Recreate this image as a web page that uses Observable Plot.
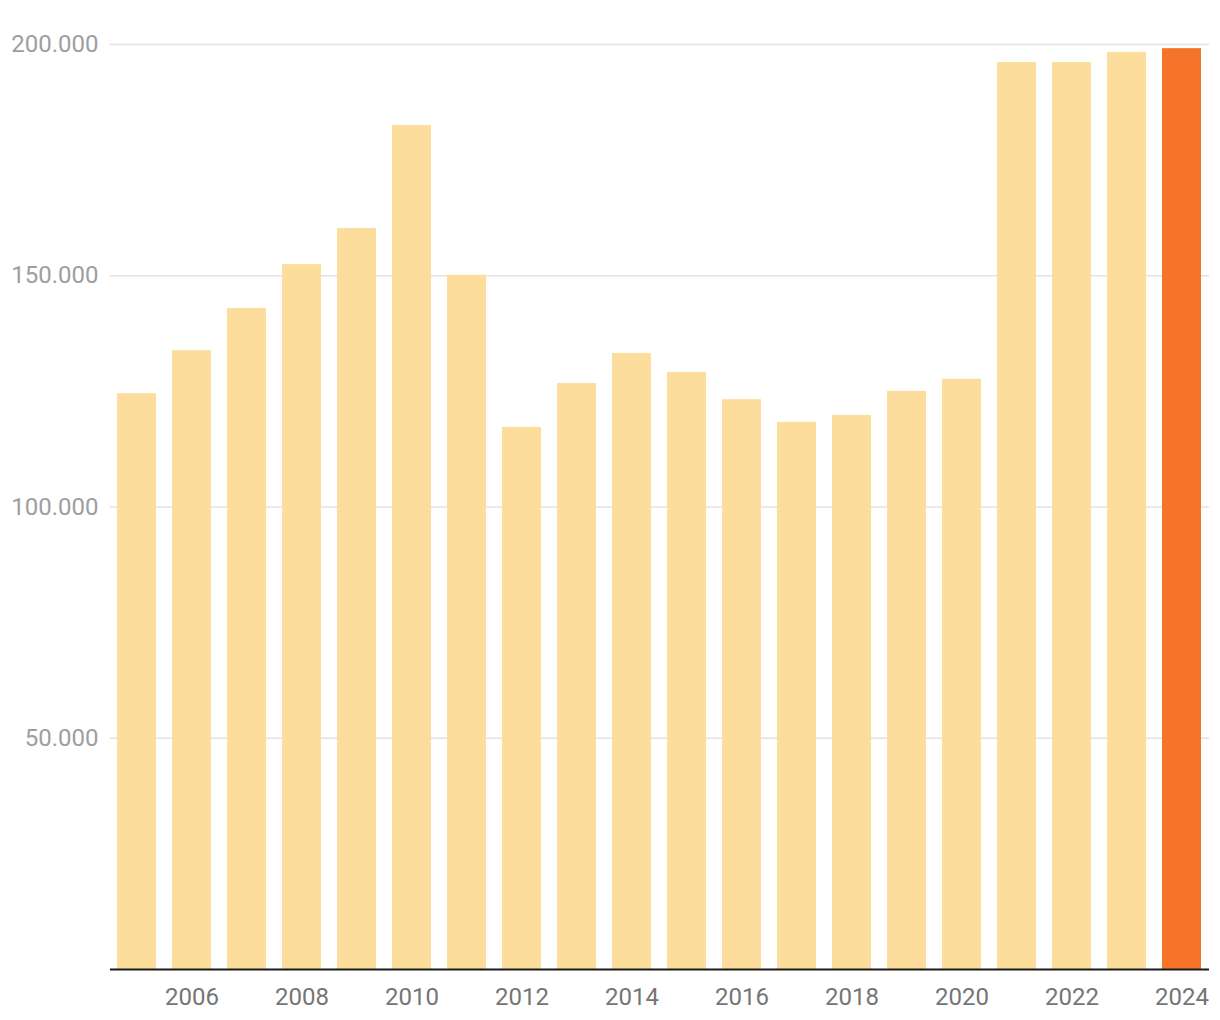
<!DOCTYPE html>
<html>
<head>
<meta charset="utf-8">
<script src="https://cdn.jsdelivr.net/npm/d3@7"></script>
<script src="https://cdn.jsdelivr.net/npm/@observablehq/plot@0.6"></script>
<style>
  html, body { margin: 0; padding: 0; background: #fff; }
  #chart svg { display: block; }
</style>
</head>
<body>
<div id="chart"></div>
<script>
const years = [2005, 2006, 2007, 2008, 2009, 2010, 2011, 2012, 2013, 2014, 2015, 2016, 2017, 2018, 2019, 2020, 2021, 2022, 2023, 2024];
const values = [124500, 133800, 142900, 152400, 160200, 182500, 150100, 117200, 126700, 133200, 129100, 123200, 118300, 119800, 125000, 127600, 196100, 196100, 198300, 199100];
const yTicks = [50000, 100000, 150000, 200000];
const xTickLabels = [2006, 2008, 2010, 2012, 2014, 2016, 2018, 2020, 2022, 2024];
const highlightYear = 2024;

const data = years.map((y, i) => ({year: y, value: values[i]}));
const fmt = d => d3.format(",")(d).replace(/,/g, ".");

const chart = Plot.plot({
  width: 1220,
  height: 1020,
  marginTop: 44,
  marginLeft: 110,
  marginRight: 11,
  marginBottom: 51,
  style: {fontFamily: "Roboto, sans-serif", fontSize: "24px", background: "#fff"},
  x: {type: "band", domain: years, paddingInner: 0.29, paddingOuter: 0.11, label: null},
  y: {domain: [0, 200000], label: null},
  marks: [
    Plot.gridY(yTicks, {stroke: "#e2e2e2", strokeOpacity: 1, strokeWidth: 1.6}),
    Plot.barY(data, {x: "year", y: "value", fill: d => d.year === highlightYear ? "#f57429" : "#fcdd9b"}),
    Plot.ruleY([0], {stroke: "#1a1a1a", strokeWidth: 2}),
    Plot.axisY(yTicks, {tickSize: 0, tickPadding: 12, tickFormat: fmt, fill: "#9e9e9e", fontSize: 24, label: null}),
    Plot.axisX(xTickLabels, {tickSize: 0, tickPadding: 18, tickFormat: d => String(d), fill: "#757575", fontSize: 24, label: null})
  ]
});
document.getElementById("chart").appendChild(chart);
</script>
</body>
</html>
